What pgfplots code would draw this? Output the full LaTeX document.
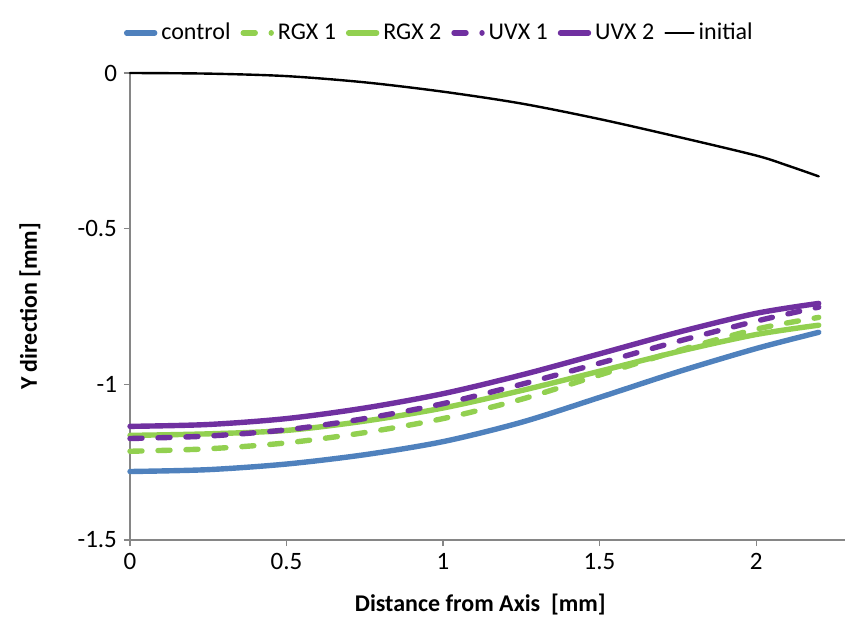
\documentclass[border=0pt]{standalone}
\usepackage{fontspec}
\setmainfont{Carlito}
\usepackage{pgfplots}
\pgfplotsset{compat=1.18}
\definecolor{ctrlblue}{HTML}{4F81BD}
\definecolor{rgxgreen}{HTML}{92D050}
\definecolor{uvxpurple}{HTML}{7030A0}
\definecolor{axgray}{HTML}{868686}

\begin{document}
\begin{tikzpicture}[font=\fontsize{12}{14}\selectfont]
\useasboundingbox (-65pt,-43.5pt) rectangle (360pt,270pt);
\begin{axis}[
  at={(0,0)}, anchor=south west,
  width=357.5pt, height=233.5pt, scale only axis,
  xmin=0, xmax=2.284, ymin=-1.5, ymax=0,
  axis x line=bottom, axis y line=left,
  axis line style={-, color=axgray, line width=0.6pt},
  tick style={color=axgray, line width=0.6pt},
  tick align=outside, major tick length=3pt,
  xtick={0,0.5,1,1.5,2}, xticklabels={0,0.5,1,1.5,2},
  ytick={-1.5,-1,-0.5,0}, yticklabels={-1.5,-1,-0.5,0},
  tick label style={font=\fontsize{12.5}{14}\selectfont},
  /pgf/number format/assume math mode=true,
  xlabel={\bfseries Distance from Axis\ \ [mm]},
  ylabel={\bfseries Y direction [mm]},
  xlabel style={at={(axis description cs:0.49,-0.139)}, anchor=center},
  ylabel style={at={(axis description cs:-0.14,0.5)}, anchor=center, rotate=0},
  clip=false,
  legend columns=6,
  legend style={at={(axis description cs:0.434,1.086)}, anchor=center,
                draw=none, fill=none, font=\fontsize{12}{14}\selectfont,
                /tikz/every even column/.append style={column sep=3pt}},
  legend cell align=left,
  legend image code/.code={\draw[#1] plot coordinates {(0pt,0pt) (14pt,0pt)};},
  every axis plot/.append style={smooth, tension=0.5, line cap=round},
]
\addplot[color=ctrlblue, line width=2.7pt] coordinates {
  (0,-1.280) (0.25,-1.274) (0.5,-1.256) (0.75,-1.226) (1,-1.184)
  (1.25,-1.122) (1.5,-1.042) (1.75,-0.960) (2,-0.885) (2.2,-0.833)};
\addlegendentry{control}
\addplot[color=rgxgreen, line width=2.7pt, dash pattern=on 6pt off 8pt] coordinates {
  (0,-1.215) (0.25,-1.207) (0.5,-1.188) (0.75,-1.155) (1,-1.110)
  (1.25,-1.048) (1.5,-0.970) (1.75,-0.892) (2,-0.823) (2.2,-0.785)};
\addlegendentry{RGX 1}
\addplot[color=rgxgreen, line width=2.7pt] coordinates {
  (0,-1.164) (0.25,-1.159) (0.5,-1.148) (0.75,-1.118) (1,-1.076)
  (1.25,-1.020) (1.5,-0.958) (1.75,-0.895) (2,-0.840) (2.2,-0.810)};
\addlegendentry{RGX 2}
\addplot[color=uvxpurple, line width=2.7pt, dash pattern=on 6pt off 8pt] coordinates {
  (0,-1.174) (0.25,-1.166) (0.5,-1.146) (0.75,-1.110) (1,-1.062)
  (1.25,-1.000) (1.5,-0.932) (1.75,-0.862) (2,-0.797) (2.2,-0.752)};
\addlegendentry{UVX 1}
\addplot[color=uvxpurple, line width=2.7pt] coordinates {
  (0,-1.135) (0.25,-1.129) (0.5,-1.110) (0.75,-1.076) (1,-1.030)
  (1.25,-0.970) (1.5,-0.902) (1.75,-0.833) (2,-0.772) (2.2,-0.740)};
\addlegendentry{UVX 2}
\addplot[color=black, line width=1.2pt] coordinates {
  (0,0) (0.25,-0.002) (0.5,-0.010) (0.75,-0.030) (1,-0.060)
  (1.25,-0.098) (1.5,-0.148) (1.75,-0.205) (2,-0.265) (2.1,-0.297) (2.2,-0.332)};
\addlegendentry{initial}
\end{axis}
\end{tikzpicture}
\end{document}
